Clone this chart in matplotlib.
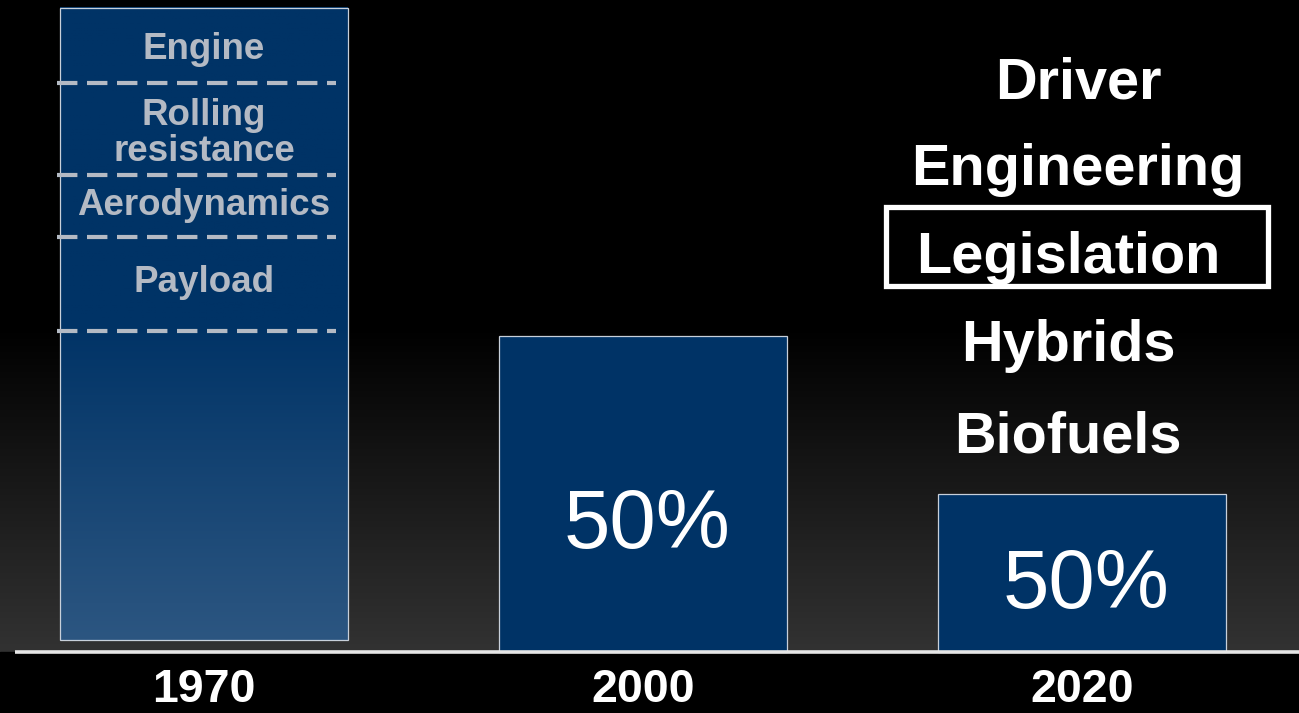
import numpy as np
import matplotlib.pyplot as plt
from matplotlib.patches import Rectangle
from matplotlib.colors import LinearSegmentedColormap

plt.rcParams['font.family'] = ['Liberation Sans', 'DejaVu Sans']

# data
years = ['1970', '2000', '2020']
heights = [100, 50, 25]
bottoms = [1.9, 0, 0]
pct_labels = ['', '50%', '50%']
# 1970 breakdown (boundaries, top down)
split_levels = [90.0, 75.5, 65.7, 50.8]
split_names = ['Engine', 'Rolling\nresistance', 'Aerodynamics', 'Payload']
split_name_y = [95.3, 82.0, 70.7, 58.5]
levers = ['Driver', 'Engineering', 'Legislation', 'Hybrids', 'Biofuels']
lever_y = [90.0, 76.3, 62.3, 48.4, 34.0]
lever_x = [1.991, 1.991, 1.968, 1.968, 1.968]

W, H = 1299, 713
fig = plt.figure(figsize=(W / 100, H / 100), dpi=100)
fig.patch.set_facecolor('black')
ax = fig.add_axes([0, 0, 1, 1])
ax.set_axis_off()

# pixel scale: 439 px per category, 6.32 px per percent, baseline at y=652
xl = (-204 / 439, (W - 204) / 439)
yl = (-(H - 652) / 6.32, 652 / 6.32)
ax.set_xlim(xl)
ax.set_ylim(yl)

# background gradient (black at top -> dark gray at baseline)
bg = LinearSegmentedColormap.from_list('bg', ['#000000', '#000000', '#323232'])
grad = np.linspace(0, 1, 256).reshape(-1, 1)
ax.imshow(grad, cmap=bg, aspect='auto', extent=(xl[0], xl[1], 0, yl[1]),
          origin='upper', zorder=0)
ax.add_patch(Rectangle((xl[0], yl[0]), xl[1] - xl[0], -yl[0], color='black', zorder=0.5))

bw = 288 / 439
xs = np.arange(len(years))

# 1970 bar with gradient
g70 = LinearSegmentedColormap.from_list(
    'g70', [(0, '#003366'), (0.5, '#003366'), (1, '#2c5681')])
ax.imshow(grad, cmap=g70, aspect='auto',
          extent=(xs[0] - bw / 2, xs[0] + bw / 2, bottoms[0], bottoms[0] + heights[0]),
          origin='upper', zorder=1)
bars = ax.bar(xs, heights, width=bw, bottom=bottoms, color='#003366',
              edgecolor='#c8d0da', linewidth=0.9, zorder=1)
bars[0].set_facecolor('none')
bars[0].set_zorder(2)

for yv in split_levels:
    ax.plot([xs[0] - bw / 2 - 0.007, xs[0] + bw / 2 - 0.027], [yv, yv], color='#b4bac4',
            lw=3.0, dashes=(4.9, 2.3), zorder=3)
for name, yv in zip(split_names, split_name_y):
    ax.text(xs[0], yv, name, ha='center', va='center', color='#b4bac4',
            fontsize=26.5, fontweight='bold', linespacing=1.02, zorder=4)

# percent labels
pct_y = [0, 20.0, 10.4]
for x, lab, yv in zip(xs, pct_labels, pct_y):
    if lab:
        ax.text(x + 0.01, yv, lab, ha='center', va='center', color='white', fontsize=60,
                zorder=4)

# levers for 2020
for name, x, yv in zip(levers, lever_x, lever_y):
    ax.text(x, yv, name, ha='center', va='center', color='white', fontsize=41.5,
            fontweight='bold', zorder=4)
ax.add_patch(Rectangle((1.5535, 57.9), 2.4237 - 1.5535, 70.4 - 57.9, fill=False,
                       edgecolor='white', lw=3.8, zorder=4))

# baseline and year labels
ax.plot([(15 - 204) / 439, xl[1]], [0, 0], color='#e6e6e6', lw=2.6, zorder=5,
        solid_capstyle='butt')
for x, yr in zip(xs, years):
    ax.text(x, -6.0, yr, ha='center', va='center', color='white', fontsize=33.5,
            fontweight='bold', zorder=4)

fig.savefig('out.png', dpi=100, facecolor='black')
